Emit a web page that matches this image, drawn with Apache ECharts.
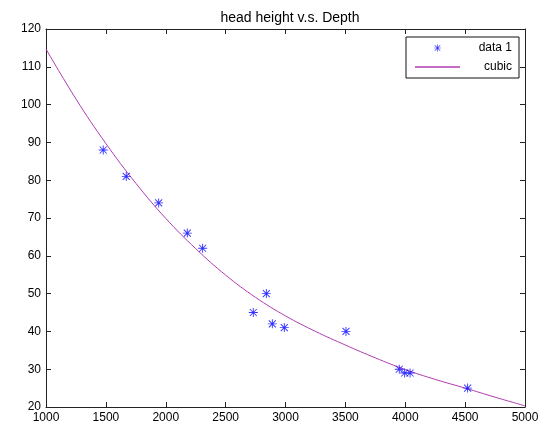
<!DOCTYPE html>
<html>
<head>
<meta charset="utf-8">
<script src="https://cdn.jsdelivr.net/npm/echarts@6/dist/echarts.min.js"></script>
<style>
html,body{margin:0;padding:0;background:#fff;}
#main{width:558px;height:430px;}
</style>
</head>
<body>
<div id="main"></div>
<script>
// Data
var depthData = [1478, 1670, 1941, 2180, 2308, 2731, 2840, 2890, 2990, 3505, 3950, 3995, 4040, 4521];
var heightData = [88, 81, 74, 66, 62, 45, 50, 42, 41, 40, 30, 29, 29, 25];
var curveX = [1000, 1250, 1500, 1750, 2000, 2250, 2500, 2750, 3000, 3250, 3500, 3750, 4000, 4250, 4500, 4750, 5000];
var curveY = [114.7, 101.5, 89.7, 79.2, 69.9, 61.9, 54.9, 49.0, 44.1, 40.0, 36.4, 33.0, 29.9, 27.3, 25.0, 22.6, 20.3];
var xTicks = [1000, 1500, 2000, 2500, 3000, 3500, 4000, 4500, 5000];
var yTicks = [20, 30, 40, 50, 60, 70, 80, 90, 100, 110, 120];

var FONT = '"Liberation Sans", Arial, sans-serif';
var AX = '#222';
var STAR = 'path://M0 9 L20 9 L20 11 L0 11 Z M9 0 L11 0 L11 20 L9 20 Z M2.9 1.5 L18.5 17.1 L17.1 18.5 L1.5 2.9 Z M17.1 1.5 L18.5 2.9 L2.9 18.5 L1.5 17.1 Z';
var LINEICON = 'path://M0 0 L45 0 L45 1.3 L0 1.3 Z';

var scatterPts = depthData.map(function (d, i) { return [d, heightData[i]]; });
var curvePts = curveX.map(function (d, i) { return [d, curveY[i]]; });

function axisCommon(showLabel) {
  return {
    axisLine: { show: true, onZero: false, lineStyle: { color: AX, width: 1 } },
    axisTick: { show: true, inside: true, length: 5, lineStyle: { color: AX } },
    axisLabel: { show: showLabel, color: '#000', fontFamily: FONT, fontSize: 12, margin: 5,
      formatter: function (v) { return String(v); } },
    splitLine: { show: false }
  };
}
function xAxisCfg(pos, showLabel) {
  return Object.assign({
    type: 'value', position: pos,
    min: xTicks[0], max: xTicks[xTicks.length - 1], interval: xTicks[1] - xTicks[0]
  }, axisCommon(showLabel));
}
function yAxisCfg(pos, showLabel) {
  return Object.assign({
    type: 'value', position: pos,
    min: yTicks[0], max: yTicks[yTicks.length - 1], interval: yTicks[1] - yTicks[0]
  }, axisCommon(showLabel));
}

var chart = echarts.init(document.getElementById('main'), null, { renderer: 'canvas' });
chart.setOption({
  animation: false,
  backgroundColor: '#fff',
  title: {
    text: 'head height v.s. Depth',
    left: 285, top: 6, textAlign: 'center',
    textStyle: { fontFamily: FONT, fontSize: 14, fontWeight: 'normal', color: '#000' }
  },
  grid: { left: 46, right: 33, top: 29, bottom: 23 },
  xAxis: [xAxisCfg('bottom', true), xAxisCfg('top', false)],
  yAxis: [yAxisCfg('left', true), yAxisCfg('right', false)],
  legend: {
    orient: 'vertical',
    left: 406, top: 37,
    padding: [5, 7, 5, 9],
    itemGap: 7,
    itemWidth: 45, itemHeight: 7,
    borderColor: '#111', borderWidth: 1, borderRadius: 0,
    backgroundColor: '#fff',
    data: [
      { name: 'data 1', icon: STAR },
      { name: 'cubic', icon: LINEICON }
    ],
    formatter: function (n) { return '{a|' + n + '}'; },
    textStyle: {
      fontFamily: FONT, fontSize: 12, color: '#000',
      rich: { a: { width: 47, align: 'right', fontFamily: FONT, fontSize: 12, color: '#000' } }
    }
  },
  series: [
    {
      name: 'data 1', type: 'scatter',
      xAxisIndex: 0, yAxisIndex: 0,
      symbol: STAR, symbolSize: 9,
      itemStyle: { color: '#0000ff' },
      data: scatterPts, z: 3
    },
    {
      name: 'cubic', type: 'line',
      xAxisIndex: 0, yAxisIndex: 0,
      symbol: 'none', smooth: 0.4,
      lineStyle: { color: '#b03cb0', width: 1 },
      itemStyle: { color: '#b03cb0' },
      data: curvePts, z: 2
    }
  ]
});
</script>
</body>
</html>
